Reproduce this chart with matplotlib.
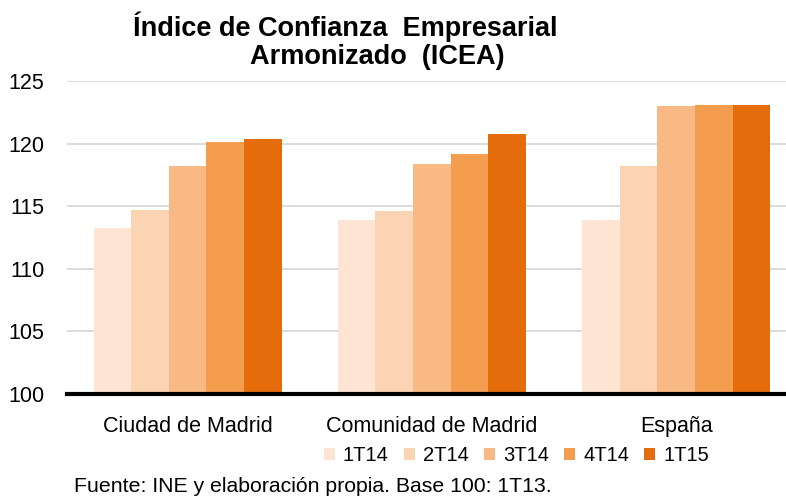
import matplotlib.pyplot as plt
import numpy as np

plt.rcParams['font.family'] = ['Liberation Sans', 'DejaVu Sans']

# Data
categories = ['Ciudad de Madrid', 'Comunidad de Madrid', 'España']
series = ['1T14', '2T14', '3T14', '4T14', '1T15']
values = {
    '1T14': [113.3, 113.9, 113.9],
    '2T14': [114.7, 114.6, 118.2],
    '3T14': [118.2, 118.4, 123.0],
    '4T14': [120.1, 119.2, 123.1],
    '1T15': [120.4, 120.8, 123.1],
}
colors = ['#FDE4D3', '#FBD4B3', '#F8B984', '#F59D4F', '#E46C0A']

fig = plt.figure(figsize=(7.86, 4.97), dpi=100)
ax = fig.add_axes([0.085, 0.207, 0.915, 0.63])

x = np.arange(len(categories))
w = 0.154
for i, s in enumerate(series):
    ax.bar(x + (i - 2) * w, values[s], width=w, bottom=0, color=colors[i],
           label=s, zorder=3)

ax.set_ylim(100, 125)
ax.set_xlim(-0.495, 2.45)
ax.set_yticks(range(100, 126, 5))
ax.yaxis.grid(True, color='#D9D9D9', linewidth=1.3, zorder=0)
ax.set_axisbelow(True)
for sp in ['top', 'right', 'left']:
    ax.spines[sp].set_visible(False)
ax.spines['bottom'].set_linewidth(3)
ax.spines['bottom'].set_zorder(5)
ax.tick_params(axis='both', length=0, labelsize=15.5)
ax.tick_params(axis='y', pad=16)
ax.tick_params(axis='x', pad=16)
ax.set_xticks(x)
ax.set_xticklabels(categories)

fig.text(0.439, 0.946, 'Índice de Confianza  Empresarial', ha='center', va='center',
         fontsize=19.5, fontweight='bold')
fig.text(0.48, 0.885, 'Armonizado  (ICEA)', ha='center', va='center',
         fontsize=19.5, fontweight='bold')

fig.legend(loc='center', bbox_to_anchor=(0.657, 0.084), ncol=5, frameon=False,
           fontsize=14.5, handlelength=0.55, handleheight=0.55, handletextpad=0.4,
           columnspacing=0.75, borderpad=0)

fig.text(0.094, 0.022, 'Fuente: INE y elaboración propia. Base 100: 1T13.',
         ha='left', va='center', fontsize=15.3)

plt.savefig('out.png')
